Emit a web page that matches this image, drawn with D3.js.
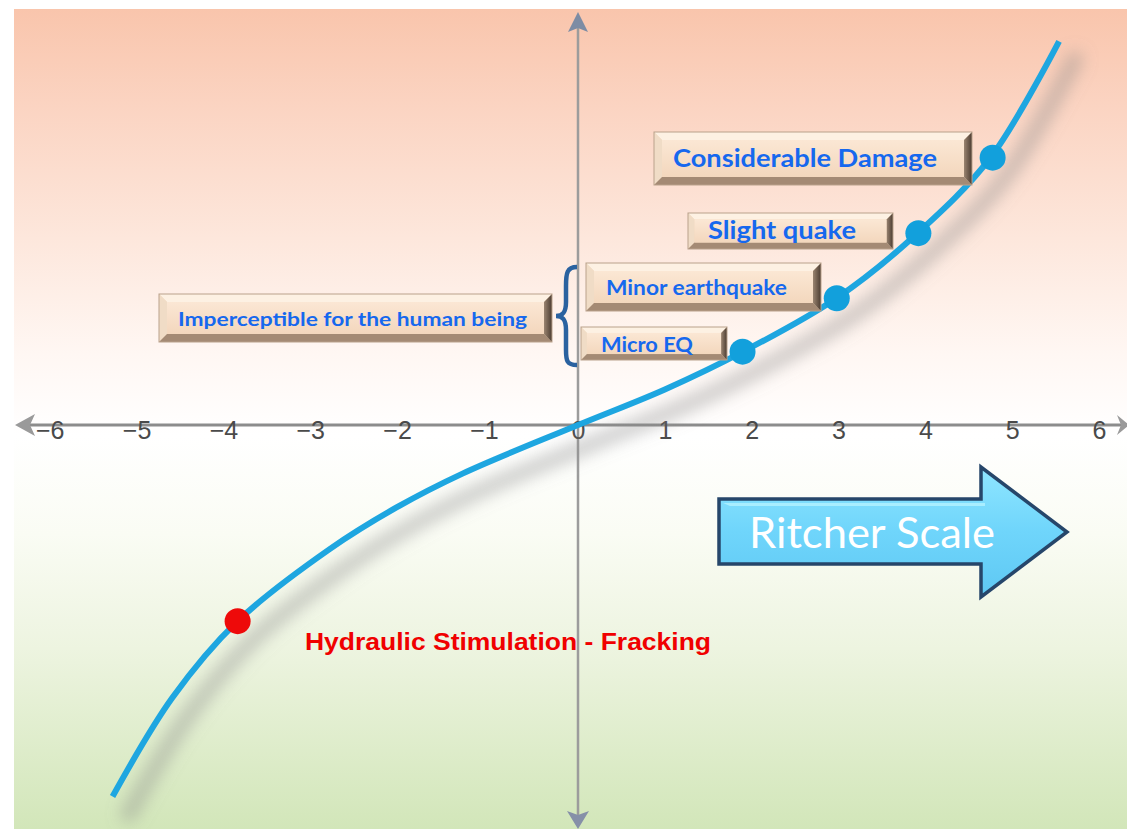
<!DOCTYPE html>
<html>
<head>
<meta charset="utf-8">
<script src="https://cdn.jsdelivr.net/npm/d3@7"></script>
<style>
  html, body { margin: 0; padding: 0; background: #ffffff; }
  svg { display: block; }
</style>
</head>
<body>
<svg id="chart" width="1127" height="829"></svg>
<script>
// Magnitude curve (x = Richter magnitude, y = relative effect)
const curveX = [-5.36, -4.67, -3.92, -2.86, -2.09, -1.33, 0, 1.0, 1.89, 2.99, 3.9, 4.75, 5.54];
const curveY = [-4.28, -3.14, -2.26, -1.43, -0.95, -0.56, 0, 0.41, 0.84, 1.47, 2.20, 3.08, 4.42];

// Highlighted events along the curve
const eventNames = ["Micro EQ", "Minor earthquake", "Slight quake", "Considerable Damage"];
const eventX = [1.895, 2.98, 3.92, 4.775];
const eventY = [0.845, 1.46, 2.21, 3.08];

const frackName = "Hydraulic Stimulation - Fracking";
const frackX = [-3.92];
const frackY = [-2.26];

const groupLabel = "Imperceptible for the human being";
const arrowLabel = "Ritcher Scale";

// Axis ticks
const tickValues = [-6, -5, -4, -3, -2, -1, 0, 1, 2, 3, 4, 5, 6];

const svg = d3.select("#chart");
const W = 1127, H = 829;

const x = d3.scaleLinear().domain([-6, 6]).range([57, 1099]);
const y = d3.scaleLinear().domain([-5, 5]).range([425 + 434, 425 - 434]);

const defs = svg.append("defs");

// background wash: peach on top, white in the middle, pale green below
const bg = defs.append("linearGradient").attr("id", "bg").attr("x1", 0).attr("y1", 0).attr("x2", 0).attr("y2", 1);
[[0, "#f9c5ac"], [0.12, "#fbd4c2"], [0.28, "#fde7dc"], [0.42, "#fff7f3"], [0.52, "#ffffff"],
 [0.64, "#fafcf4"], [0.78, "#edf4e0"], [1, "#d2e6b9"]].forEach(([o, c]) =>
  bg.append("stop").attr("offset", o).attr("stop-color", c));

const blur = defs.append("filter").attr("id", "shadowBlur")
  .attr("x", "-20%").attr("y", "-20%").attr("width", "140%").attr("height", "140%");
blur.append("feGaussianBlur").attr("stdDeviation", 8);

const faceGrad = defs.append("linearGradient").attr("id", "face").attr("x1", 0).attr("y1", 0).attr("x2", 0).attr("y2", 1);
faceGrad.append("stop").attr("offset", 0).attr("stop-color", "#fbe7d4");
faceGrad.append("stop").attr("offset", 1).attr("stop-color", "#f3d7bd");

const rightGrad = defs.append("linearGradient").attr("id", "rightEdge").attr("x1", 0).attr("y1", 0).attr("x2", 1).attr("y2", 0);
rightGrad.append("stop").attr("offset", 0).attr("stop-color", "#9a8470");
rightGrad.append("stop").attr("offset", 1).attr("stop-color", "#4a3b30");

const arrowGrad = defs.append("linearGradient").attr("id", "arrowFill").attr("x1", 0).attr("y1", 0).attr("x2", 0).attr("y2", 1);
arrowGrad.append("stop").attr("offset", 0).attr("stop-color", "#8fe6ff");
arrowGrad.append("stop").attr("offset", 0.5).attr("stop-color", "#6fd5fb");
arrowGrad.append("stop").attr("offset", 1).attr("stop-color", "#5ec8f3");

svg.append("rect").attr("x", 14).attr("y", 9).attr("width", W - 14).attr("height", H - 9)
  .attr("fill", "url(#bg)");

// ---- axes ----
const axisColor = "#8c8c8c";
svg.append("line").attr("x1", 30).attr("x2", W).attr("y1", y(0)).attr("y2", y(0))
  .attr("stroke", axisColor).attr("stroke-width", 3);
svg.append("path").attr("d", `M15,${y(0)} L35,${y(0) - 11} L30,${y(0)} L35,${y(0) + 11} Z`).attr("fill", "#9a9a9a");
svg.append("path").attr("d", `M${W + 2},${y(0)} L${W - 10},${y(0) - 10} L${W - 6},${y(0)} L${W - 10},${y(0) + 10} Z`).attr("fill", "#9a9a9a");

svg.append("line").attr("x1", x(0)).attr("x2", x(0)).attr("y1", 26).attr("y2", 816)
  .attr("stroke", "#9c9c9c").attr("stroke-width", 2.5);
svg.append("path").attr("d", `M${x(0)},12 L${x(0) + 10},32 L${x(0)},28 L${x(0) - 10},32 Z`).attr("fill", "#7d8ca4");
svg.append("path").attr("d", `M${x(0)},829 L${x(0) + 11},811 L${x(0)},815 L${x(0) - 11},811 Z`).attr("fill", "#8690a8");

const xAxis = d3.axisBottom(x).tickValues(tickValues).tickSize(0).tickPadding(0);
const gx = svg.append("g").attr("transform", `translate(0,${y(0)})`).call(xAxis);
gx.select(".domain").remove();
gx.selectAll("text")
  .attr("y", 14)
  .attr("dy", 0)
  .attr("text-anchor", d => d < 0 ? "end" : "middle")
  .attr("dx", d => d < 0 ? 7 : 0)
  .attr("fill", "#4a4a4a")
  .style("font-family", "'Liberation Sans', Arial, sans-serif")
  .style("font-size", "25px");

// ---- curve ----
const pts = curveX.map((v, i) => [v, curveY[i]]);
const line = d3.line().x(d => x(d[0])).y(d => y(d[1])).curve(d3.curveCatmullRom.alpha(0.5));

svg.append("path").attr("d", line(pts)).attr("fill", "none")
  .attr("stroke", "#8a8a8a").attr("stroke-width", 16).attr("stroke-opacity", 0.42)
  .attr("stroke-linecap", "round")
  .attr("transform", "translate(16,18)").attr("filter", "url(#shadowBlur)");

svg.append("path").attr("d", line(pts)).attr("fill", "none")
  .attr("stroke", "#1ea6e0").attr("stroke-width", 6);

// event dots
const dotData = eventX.map((v, i) => ({ x: v, y: eventY[i] }));
svg.selectAll("circle.ev").data(dotData).join("circle").attr("class", "ev")
  .attr("cx", d => x(d.x)).attr("cy", d => y(d.y)).attr("r", 13).attr("fill", "#12a0dc");

svg.selectAll("circle.fr").data(frackX.map((v, i) => ({ x: v, y: frackY[i] }))).join("circle").attr("class", "fr")
  .attr("cx", d => x(d.x)).attr("cy", d => y(d.y)).attr("r", 13).attr("fill", "#ee0a0a");

// ---- bevelled label boxes ----
function bevelBox(g, bx, by, bw, bh, b) {
  g.append("rect").attr("x", bx).attr("y", by).attr("width", bw).attr("height", bh).attr("fill", "#f2d8bf");
  g.append("path").attr("d", `M${bx},${by} L${bx + bw},${by} L${bx + bw - b},${by + b} L${bx + b},${by + b} Z`).attr("fill", "#fdf1e3");
  g.append("path").attr("d", `M${bx},${by} L${bx + b},${by + b} L${bx + b},${by + bh - b} L${bx},${by + bh} Z`).attr("fill", "#f0dcc6");
  g.append("path").attr("d", `M${bx},${by + bh} L${bx + b},${by + bh - b} L${bx + bw - b},${by + bh - b} L${bx + bw},${by + bh} Z`).attr("fill", "#a48a74");
  g.append("path").attr("d", `M${bx + bw},${by} L${bx + bw},${by + bh} L${bx + bw - b},${by + bh - b} L${bx + bw - b},${by + b} Z`).attr("fill", "url(#rightEdge)");
  g.append("rect").attr("x", bx + b).attr("y", by + b).attr("width", bw - 2 * b).attr("height", bh - 2 * b).attr("fill", "url(#face)");
  g.append("rect").attr("x", bx).attr("y", by).attr("width", bw).attr("height", bh)
    .attr("fill", "none").attr("stroke", "#b9a18b").attr("stroke-width", 1);
}

// box geometry for each label
const boxes = [
  { text: eventNames[0], bx: 581, by: 327, bw: 146, bh: 33, tx: 601, ty: 352, tw: 92, fs: 20 },
  { text: eventNames[1], bx: 586, by: 263, bw: 235, bh: 48, tx: 606, ty: 295, tw: 181, fs: 20 },
  { text: eventNames[2], bx: 688, by: 213, bw: 205, bh: 36, tx: 708, ty: 239, tw: 148, fs: 24 },
  { text: eventNames[3], bx: 654, by: 132, bw: 318, bh: 53, tx: 673, ty: 167, tw: 264, fs: 24 },
  { text: groupLabel, bx: 159, by: 294, bw: 393, bh: 48, tx: 178, ty: 326, tw: 349, fs: 19 }
];

boxes.forEach(bd => {
  const g = svg.append("g");
  bevelBox(g, bd.bx, bd.by, bd.bw, bd.bh, Math.min(8, bd.bh * 0.18));
  g.append("text").attr("x", bd.tx).attr("y", bd.ty).text(bd.text)
    .attr("textLength", bd.tw).attr("lengthAdjust", "spacingAndGlyphs")
    .attr("fill", "#1668ee")
    .style("font-family", "Lato, 'Open Sans', sans-serif")
    .style("font-weight", "bold")
    .style("font-size", bd.fs + "px");
});

// curly brace grouping the two smallest categories
svg.append("path")
  .attr("d", "M577,267 C567,267 566,273 566,286 L566,302 C566,312 563,316 556,316 C563,316 566,320 566,330 L566,350 C566,361 567,365 577,365")
  .attr("fill", "none").attr("stroke", "#2a62a0").attr("stroke-width", 4.5);

// ---- Richter scale arrow ----
const arrowG = svg.append("g");
const arrowPath = "M719,499 L981,499 L981,467 L1067,532 L981,597 L981,564 L719,564 Z";
arrowG.append("path").attr("d", arrowPath).attr("fill", "url(#arrowFill)")
  .attr("stroke", "#26466a").attr("stroke-width", 3.5).attr("stroke-linejoin", "miter");
arrowG.append("path").attr("d", "M723,503 L985,503 L985,506 L730,506 Z").attr("fill", "#b4f3ff").attr("opacity", 0.8);
arrowG.append("text").attr("x", 749).attr("y", 548).text(arrowLabel)
  .attr("textLength", 246).attr("lengthAdjust", "spacingAndGlyphs")
  .attr("fill", "#ffffff")
  .style("font-family", "Lato, 'Open Sans', sans-serif")
  .style("font-size", "43px");

// fracking label
svg.append("text").attr("x", 305).attr("y", 650).text(frackName)
  .attr("textLength", 406).attr("lengthAdjust", "spacingAndGlyphs")
  .attr("fill", "#f00000")
  .style("font-family", "'Liberation Sans', Arial, sans-serif")
  .style("font-weight", "bold")
  .style("font-size", "24px");
</script>
</body>
</html>
